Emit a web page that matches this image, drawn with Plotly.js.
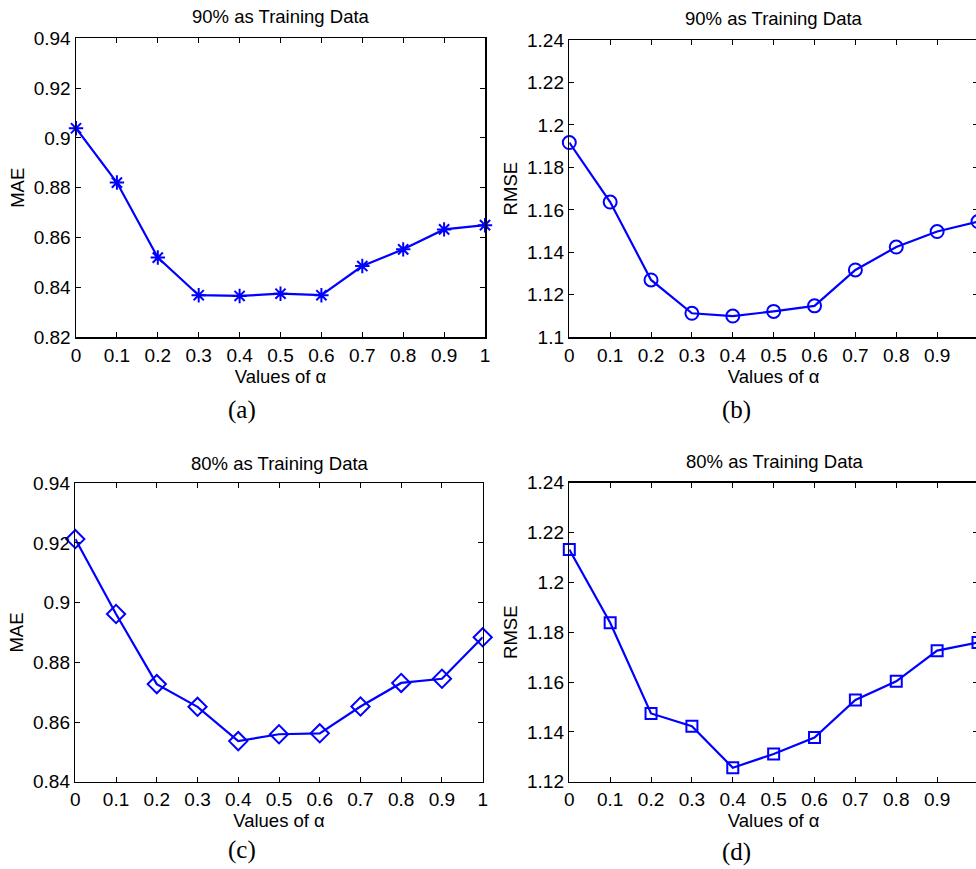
<!DOCTYPE html>
<html>
<head>
<meta charset="utf-8">
<script src="https://cdn.plot.ly/plotly-3.0.1.min.js"></script>
<style>
  html, body { margin: 0; padding: 0; background: #fff; overflow: hidden; }
  #wrap { width: 976px; height: 869px; overflow: hidden; }
</style>
</head>
<body>
<div id="wrap"><div id="chart"></div></div>
<script>
// Error vs. alpha for two training splits
const alpha = [0, 0.1, 0.2, 0.3, 0.4, 0.5, 0.6, 0.7, 0.8, 0.9, 1];
const mae90  = [0.9039, 0.8821, 0.8520, 0.8369, 0.8366, 0.8375, 0.8369, 0.8486, 0.8553, 0.8633, 0.8650];
const rmse90 = [1.1917, 1.1637, 1.1270, 1.1113, 1.1100, 1.1122, 1.1148, 1.1317, 1.1425, 1.1498, 1.1545];
const mae80  = [0.9213, 0.8962, 0.8727, 0.8651, 0.8536, 0.8559, 0.8562, 0.8652, 0.8731, 0.8745, 0.8884];
const rmse80 = [1.2132, 1.1838, 1.1474, 1.1423, 1.1256, 1.1311, 1.1377, 1.1528, 1.1603, 1.1726, 1.1759];

const xTickVals = [0, 0.1, 0.2, 0.3, 0.4, 0.5, 0.6, 0.7, 0.8, 0.9, 1];
const xTickText = ['0', '0.1', '0.2', '0.3', '0.4', '0.5', '0.6', '0.7', '0.8', '0.9', '1'];
const maeTicks90 = [0.82, 0.84, 0.86, 0.88, 0.9, 0.92, 0.94];
const maeText90  = ['0.82', '0.84', '0.86', '0.88', '0.9', '0.92', '0.94'];
const rmseTicks90 = [1.1, 1.12, 1.14, 1.16, 1.18, 1.2, 1.22, 1.24];
const rmseText90  = ['1.1', '1.12', '1.14', '1.16', '1.18', '1.2', '1.22', '1.24'];
const maeTicks80 = [0.84, 0.86, 0.88, 0.9, 0.92, 0.94];
const maeText80  = ['0.84', '0.86', '0.88', '0.9', '0.92', '0.94'];
const rmseTicks80 = [1.12, 1.14, 1.16, 1.18, 1.2, 1.22, 1.24];
const rmseText80  = ['1.12', '1.14', '1.16', '1.18', '1.2', '1.22', '1.24'];

const titles = ['90% as Training Data', '90% as Training Data', '80% as Training Data', '80% as Training Data'];
const captions = ['(a)', '(b)', '(c)', '(d)'];

const W = 980, H = 869;
const FONT = 'Liberation Sans, Arial, Helvetica, sans-serif';
const BLUE = '#0000ff';

// plot boxes in pixels: [left, right, top, bottom]
const boxes = [
  [76, 485, 38.3, 337.3],
  [569.3, 978, 40, 337.3],
  [75.3, 482.7, 483.3, 781.7],
  [569.3, 978, 482.7, 781.7]
];
const px = v => v / W;
const py = v => 1 - v / H;

function trace(y, symbol, size, axIdx) {
  const s = axIdx === 1 ? '' : String(axIdx);
  return {
    x: alpha, y: y, type: 'scatter', mode: 'lines+markers',
    xaxis: 'x' + s, yaxis: 'y' + s,
    line: { color: BLUE, width: 2.2 },
    marker: { symbol: symbol, size: size, color: BLUE, line: { color: BLUE, width: 2 } },
    cliponaxis: false, showlegend: false, hoverinfo: 'skip'
  };
}

const data = [
  trace(mae90, 'asterisk-open', 12, 1),
  trace(rmse90, 'circle-open', 13, 2),
  trace(mae80, 'diamond-open', 14, 3),
  trace(rmse80, 'square-open', 11, 4)
];

function xaxis(i) {
  const b = boxes[i];
  return {
    domain: [px(b[0]), px(b[1])], range: [0, 1],
    anchor: 'y' + (i === 0 ? '' : i + 1),
    tickmode: 'array', tickvals: xTickVals, ticktext: xTickText,
    ticks: 'inside', ticklen: 5, tickwidth: 1, tickcolor: '#000',
    showline: true, linecolor: '#000', linewidth: 1.5, mirror: 'ticks',
    showgrid: false, zeroline: false,
    tickfont: { family: FONT, size: 19, color: '#000' },
    title: { text: 'Values of α', font: { family: FONT, size: 18.5, color: '#000' }, standoff: 0 }
  };
}
function yaxis(i, range, vals, text, label) {
  const b = boxes[i];
  return {
    domain: [py(b[3]), py(b[2])], range: range,
    anchor: 'x' + (i === 0 ? '' : i + 1),
    tickmode: 'array', tickvals: vals, ticktext: text,
    ticks: 'inside', ticklen: 5, tickwidth: 1, tickcolor: '#000',
    showline: true, linecolor: '#000', linewidth: 1.5, mirror: 'ticks',
    showgrid: false, zeroline: false,
    tickfont: { family: FONT, size: 19, color: '#000' },
    title: { text: label, font: { family: FONT, size: 18.5, color: '#000' }, standoff: 4 }
  };
}

const annotations = [];
const titlePos = [[281, 17], [774, 18], [280, 463], [775, 462]];
const capPos = [[242, 410], [736, 410], [242, 850], [736, 852]];
for (let i = 0; i < 4; i++) {
  annotations.push({
    text: titles[i], xref: 'paper', yref: 'paper',
    x: px(titlePos[i][0]), y: py(titlePos[i][1]), xanchor: 'center', yanchor: 'middle',
    showarrow: false, font: { family: FONT, size: 18.5, color: '#000' }
  });
  annotations.push({
    text: captions[i], xref: 'paper', yref: 'paper',
    x: px(capPos[i][0]), y: py(capPos[i][1]), xanchor: 'center', yanchor: 'middle',
    showarrow: false, font: { family: 'Liberation Serif, Times New Roman, serif', size: 25, color: '#000' }
  });
}

const layout = {
  width: W, height: H,
  margin: { l: 0, r: 0, t: 0, b: 0 },
  paper_bgcolor: '#fff', plot_bgcolor: '#fff',
  xaxis: xaxis(0), xaxis2: xaxis(1), xaxis3: xaxis(2), xaxis4: xaxis(3),
  yaxis: yaxis(0, [0.82, 0.94], maeTicks90, maeText90, 'MAE'),
  yaxis2: yaxis(1, [1.1, 1.24], rmseTicks90, rmseText90, 'RMSE'),
  yaxis3: yaxis(2, [0.84, 0.94], maeTicks80, maeText80, 'MAE'),
  yaxis4: yaxis(3, [1.12, 1.24], rmseTicks80, rmseText80, 'RMSE'),
  annotations: annotations
};

Plotly.newPlot('chart', data, layout, { staticPlot: true, displayModeBar: false });
</script>
</body>
</html>
